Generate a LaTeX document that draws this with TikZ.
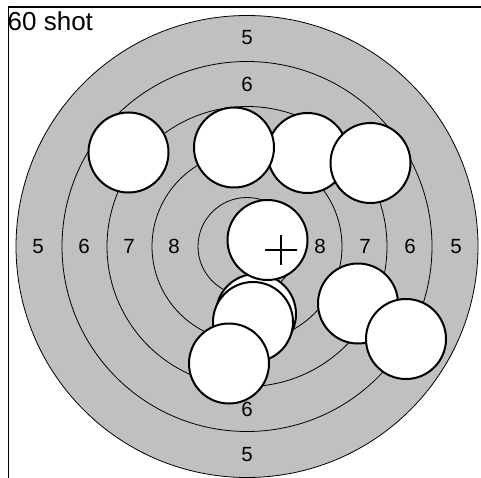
\documentclass[tikz,border=0pt]{standalone}
\usepackage{fontspec}
\setmainfont{Liberation Sans}
\definecolor{targetgray}{RGB}{192,192,192}

\begin{document}
\begin{tikzpicture}[x=1pt, y=-1pt, line join=round,
  frame/.style={draw=black, line width=1.2pt},
  ring/.style={draw=black, line width=0.8pt},
  hole/.style={draw=black, fill=white, line width=2pt},
  ringlabel/.style={font=\fontsize{20.5}{20.5}\selectfont, inner sep=0pt},
  ]
\useasboundingbox (0,0) rectangle (481,478);

% Centre of the target
\def\cx{247}
\def\cy{246.5}

% ======================================================================
% Frame and caption
% ======================================================================
\coordinate (framecorner) at (8.5,7);
\draw[frame] (framecorner |- 0,478) -- (framecorner) -- (481,7);
\node[font=\fontsize{26}{26}\selectfont, inner sep=0pt, anchor=base west]
  (caption) at (7.5,31) {60 shot};

% ======================================================================
% Rings
% ======================================================================
\fill[targetgray] (\cx,\cy) circle (231);
\foreach \r in {231, 185, 140, 95, 49} {
  \draw[ring] (\cx,\cy) circle (\r);
}

% ======================================================================
% Ring values
% ======================================================================
\node[ringlabel] (w5) at (38,\cy)  {5};
\node[ringlabel] (w6) at (84,\cy)  {6};
\node[ringlabel] (w7) at (129,\cy) {7};
\node[ringlabel] (w8) at (174,\cy) {8};
\node[ringlabel] (e8) at (320,\cy) {8};
\node[ringlabel] (e7) at (365,\cy) {7};
\node[ringlabel] (e6) at (410,\cy) {6};
\node[ringlabel] (e5) at (456,\cy) {5};
\node[ringlabel] (n5) at (\cx,38)  {5};
\node[ringlabel] (n6) at (\cx,84)  {6};
\node[ringlabel] (s6) at (\cx,409) {6};
\node[ringlabel] (s5) at (\cx,455) {5};

% ======================================================================
% Shot holes (drawing order gives the overlaps)
% ======================================================================
\foreach \x/\y in {128.5/152.5, 307.5/153, 234/147.5, 370.5/163,
                   256/314, 253/322, 229/363.5,
                   358/303.5, 406/339, 267.5/240} {
  \draw[hole] (\x,\y) circle (40);
}

% Group centre mark
\coordinate (mark) at (281,250);
\draw[line width=1.1pt] ([xshift=-16pt]mark) -- ([xshift=16pt]mark)
  ([yshift=-15pt]mark) -- ([yshift=15pt]mark);

\end{tikzpicture}
\end{document}
